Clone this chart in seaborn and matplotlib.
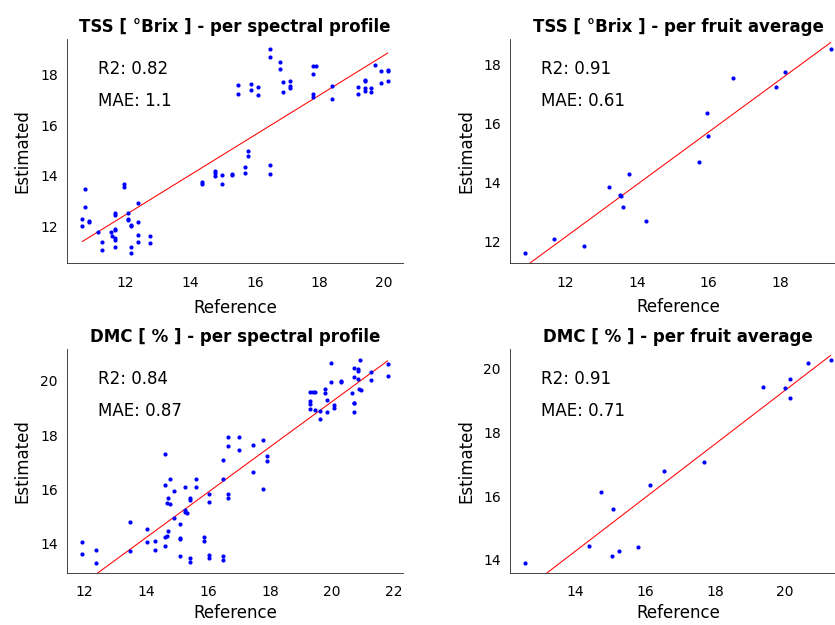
import matplotlib
matplotlib.use("Agg")
import matplotlib.pyplot as plt
from matplotlib.ticker import MultipleLocator
import seaborn as sns
import numpy as np

# --------------------------
# Data
# --------------------------
tss_ref_prof = [10.66, 10.66, 10.76, 10.76, 10.87, 10.87, 11.16, 11.26, 11.26, 11.56, 11.59,
                11.66, 11.66, 11.66, 11.66, 11.66, 11.66, 11.66, 11.96, 11.96, 12.07, 12.07,
                12.07, 12.16, 12.16, 12.16, 12.16, 12.37, 12.37, 12.37, 12.37, 12.77, 12.77,
                14.38, 14.38, 14.77, 14.77, 14.77, 14.99, 14.99, 15.29, 15.29, 15.69, 15.69,
                15.78, 15.78, 16.48, 16.48,
                15.49, 15.49, 15.88, 15.88, 16.09, 16.09, 16.48, 16.48, 16.78, 16.78, 16.88,
                16.88, 17.09, 17.09, 17.09, 17.79, 17.89, 17.79, 17.79, 17.79, 18.40, 18.40,
                19.20, 19.20, 19.40, 19.40, 19.40, 19.40, 19.60, 19.60, 19.71, 19.90, 19.90,
                20.11, 20.11, 20.11]
tss_est_prof = [12.01, 12.30, 13.48, 12.76, 12.22, 12.19, 11.79, 11.40, 11.09, 11.79, 11.63,
                11.85, 11.88, 11.55, 11.46, 11.19, 12.54, 12.47, 13.68, 13.56, 12.54, 12.31,
                12.25, 12.06, 12.03, 11.20, 10.96, 12.94, 12.16, 11.67, 11.38, 11.62, 11.36,
                13.77, 13.69, 14.18, 14.09, 13.98, 14.03, 13.69, 14.05, 14.01, 14.35, 14.09,
                14.98, 14.76, 14.44, 14.05,
                17.58, 17.21, 17.62, 17.38, 17.50, 17.17, 18.98, 18.68, 18.50, 18.21, 17.70,
                17.29, 17.73, 17.55, 17.45, 18.34, 18.34, 18.01, 17.24, 17.11, 17.52, 17.01,
                17.50, 17.21, 17.79, 17.72, 17.46, 17.35, 17.46, 17.30, 18.38, 18.14, 17.67,
                18.18, 18.12, 17.72]

tss_ref_fruit = [10.88, 11.68, 12.52, 13.22, 13.52, 13.56, 13.62, 13.79, 14.25, 15.74, 15.96,
                 16.00, 16.70, 17.90, 18.14, 19.42]
tss_est_fruit = [11.61, 12.06, 11.84, 13.85, 13.58, 13.53, 13.15, 14.27, 12.67, 14.67, 16.35,
                 15.55, 17.55, 17.23, 17.73, 18.51]

dmc_ref_prof = [11.95, 11.95, 12.39, 12.39, 13.48, 13.48, 14.03, 14.03, 14.28, 14.28, 14.61,
                14.61, 14.61, 14.61, 14.68, 14.71, 14.71, 14.68, 14.78, 14.78, 14.91, 14.91,
                15.10, 15.10, 15.10, 15.10, 15.27, 15.27, 15.27, 15.31, 15.41, 15.41, 15.41,
                15.41, 15.61, 15.61, 15.88, 15.88, 16.02, 16.02, 16.02, 16.02, 16.48, 16.48,
                16.50, 16.50, 16.65, 16.65, 16.64, 16.64, 17.00, 17.00, 17.45, 17.45, 17.77,
                17.77, 17.89, 17.89,
                19.28, 19.37, 19.45, 19.28, 19.28, 19.28, 19.46, 19.60, 19.60, 19.78, 19.78,
                19.83, 19.83, 19.95, 19.95, 20.06, 20.06, 20.28, 20.28, 20.65, 20.69, 20.71,
                20.69, 20.72, 20.72, 20.84, 20.84, 20.84, 20.86, 20.93, 20.91, 21.26, 21.26,
                21.79, 21.79]
dmc_est_prof = [14.07, 13.61, 13.75, 13.29, 14.81, 13.73, 14.55, 14.05, 14.10, 13.77, 17.30,
                16.16, 14.25, 13.93, 14.28, 14.47, 15.68, 15.51, 15.48, 16.37, 15.96, 14.96,
                14.71, 14.21, 14.16, 13.55, 16.10, 15.23, 15.17, 15.14, 15.68, 15.60, 13.46,
                13.33, 16.40, 16.09, 14.26, 14.11, 15.83, 15.53, 13.60, 13.46, 17.10, 16.37,
                13.53, 13.41, 17.95, 17.61, 15.85, 15.67, 17.93, 17.47, 17.64, 16.66, 17.82,
                16.01, 17.23, 17.06,
                19.61, 19.61, 19.61, 19.25, 19.15, 18.98, 18.92, 18.91, 18.60, 19.71, 19.56,
                19.31, 18.85, 20.67, 19.96, 19.10, 19.02, 20.00, 19.96, 19.57, 19.20, 19.18,
                18.85, 20.49, 20.16, 20.44, 20.36, 20.07, 19.69, 19.67, 20.79, 20.33, 20.04,
                20.61, 20.20]

dmc_ref_fruit = [12.57, 14.40, 14.73, 15.04, 15.08, 15.24, 15.80, 16.13, 16.55, 17.67, 19.38,
                 19.99, 20.15, 20.13, 20.66, 21.31]
dmc_est_fruit = [13.90, 14.44, 16.11, 14.11, 15.59, 14.26, 14.39, 16.36, 16.77, 17.08, 19.43,
                 19.39, 19.66, 19.06, 20.18, 20.28]

titles = ["TSS [ °Brix ] - per spectral profile", "TSS [ °Brix ] - per fruit average",
          "DMC [ % ] - per spectral profile", "DMC [ % ] - per fruit average"]
r2_values = ["0.82", "0.91", "0.84", "0.91"]
mae_values = ["1.1", "0.61", "0.87", "0.71"]

# --------------------------
# Setup
# --------------------------
sns.set_style("white")
plt.rcParams["font.family"] = ["DejaVu Sans"]
plt.rcParams["text.color"] = "black"
plt.rcParams["axes.labelcolor"] = "black"
AX_COLOR = "#262626"

fig = plt.figure(figsize=(8.35, 6.25), dpi=100)
positions = [[0.0802, 0.5792, 0.4024, 0.3580],
             [0.6108, 0.5795, 0.4024, 0.3580],
             [0.0802, 0.0830, 0.4024, 0.3580],
             [0.6108, 0.0830, 0.4024, 0.3580]]
panels = [(tss_ref_prof, tss_est_prof), (tss_ref_fruit, tss_est_fruit),
          (dmc_ref_prof, dmc_est_prof), (dmc_ref_fruit, dmc_est_fruit)]

for i, (ref, est) in enumerate(panels):
    ax = fig.add_axes(positions[i])
    sns.scatterplot(x=ref, y=est, ax=ax, color="blue", s=9, linewidth=0, zorder=3)
    xlim, ylim = ax.get_xlim(), ax.get_ylim()
    sns.regplot(x=np.array(ref), y=np.array(est), ax=ax, scatter=False, ci=None,
                truncate=True, line_kws={"color": "red", "linewidth": 0.75})
    ax.set_xlim(xlim)
    ax.set_ylim(ylim)
    ax.xaxis.set_major_locator(MultipleLocator(2))
    ax.yaxis.set_major_locator(MultipleLocator(2))

    top_row = i < 2
    ax.set_title(titles[i], fontsize=12, fontweight="bold", pad=5, color="black")
    ax.set_xlabel("Reference", fontsize=12, labelpad=6 if top_row else 3.5)
    ax.set_ylabel("Estimated", fontsize=12, labelpad=6)
    ax.text(0.093, 0.845, "R2: " + r2_values[i], transform=ax.transAxes,
            fontsize=12, va="baseline")
    ax.text(0.093, 0.700, "MAE: " + mae_values[i], transform=ax.transAxes,
            fontsize=12, va="baseline")

    for side in ["top", "right"]:
        ax.spines[side].set_visible(False)
    for side in ["left", "bottom"]:
        ax.spines[side].set_color(AX_COLOR)
        ax.spines[side].set_linewidth(0.6)
    ax.tick_params(direction="in", length=4, width=0.6, color=AX_COLOR,
                   labelsize=10, labelcolor="black")
    ax.tick_params(axis="x", pad=9.5 if top_row else 8.5)
    ax.tick_params(axis="y", pad=6.5)
    ax.grid(False)

fig.savefig("out.png", dpi=100)
plt.close(fig)
